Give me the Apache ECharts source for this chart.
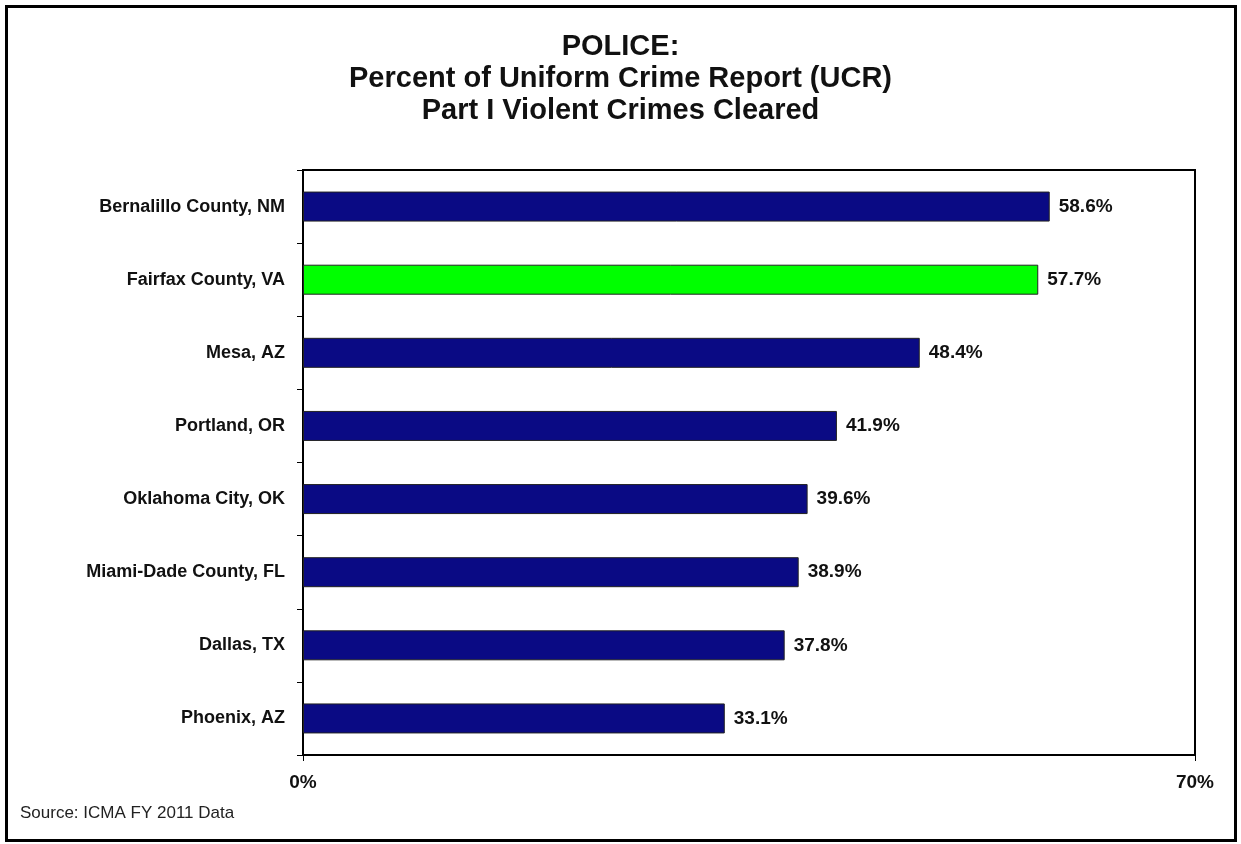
<!DOCTYPE html>
<html>
<head>
<meta charset="utf-8">
<script src="https://cdn.jsdelivr.net/npm/echarts@6/dist/echarts.min.js"></script>
<style>
  html, body { margin: 0; padding: 0; background: #fff; }
  #chart { width: 1241px; height: 844px; }
</style>
</head>
<body>
<div id="chart"></div>
<script>
// data
var cities = [
  "Bernalillo County, NM",
  "Fairfax County, VA",
  "Mesa, AZ",
  "Portland, OR",
  "Oklahoma City, OK",
  "Miami-Dade County, FL",
  "Dallas, TX",
  "Phoenix, AZ"
];
var cleared = [58.6, 57.7, 48.4, 41.9, 39.6, 38.9, 37.8, 33.1];
var highlight = "Fairfax County, VA";
var axisTicks = [0, 70];

var navy = "#0a0a84";
var green = "#00ff00";
var font = "'Liberation Sans', Arial, sans-serif";

var chart = echarts.init(document.getElementById("chart"));

var option = {
  backgroundColor: "#fff",
  animation: false,
  title: {
    text: "POLICE:\nPercent of Uniform Crime Report (UCR)\nPart I Violent Crimes Cleared",
    left: "center",
    top: 26,
    textStyle: {
      fontFamily: font,
      fontSize: 29,
      fontWeight: "bold",
      color: "#111",
      lineHeight: 32
    }
  },
  graphic: [
    {
      type: "rect",
      shape: { x: 6.5, y: 6.5, width: 1229, height: 834 },
      style: { fill: "none", stroke: "#000", lineWidth: 3 }
    },
    {
      type: "text",
      left: 20,
      top: 805,
      style: {
        text: "Source: ICMA FY 2011 Data",
        font: "17px " + font,
        fill: "#222"
      }
    }
  ],
  grid: {
    left: 303,
    right: 46,
    top: 170,
    bottom: 89,
    show: true,
    borderColor: "#000",
    borderWidth: 2
  },
  xAxis: {
    type: "value",
    min: 0,
    max: 70,
    interval: 70,
    splitLine: { show: false },
    axisLine: { show: true, lineStyle: { color: "#000", width: 2 } },
    axisTick: { show: true, length: 6, lineStyle: { color: "#000" } },
    axisLabel: {
      margin: 18,
      fontFamily: font,
      fontSize: 19,
      fontWeight: "bold",
      color: "#111",
      formatter: function (v) {
        return axisTicks.indexOf(v) >= 0 ? v + "%" : "";
      }
    }
  },
  yAxis: {
    type: "category",
    inverse: true,
    data: cities,
    axisLine: { show: true, lineStyle: { color: "#000", width: 2 } },
    axisTick: { show: true, length: 6, lineStyle: { color: "#000" } },
    axisLabel: {
      margin: 18,
      fontFamily: font,
      fontSize: 18,
      fontWeight: "bold",
      color: "#111"
    }
  },
  series: [
    {
      type: "bar",
      barWidth: 30,
      data: cleared.map(function (v, i) {
        return {
          value: v,
          itemStyle: { color: cities[i] === highlight ? green : navy }
        };
      }),
      itemStyle: { borderColor: "#222", borderWidth: 1 },
      label: {
        show: true,
        position: "right",
        distance: 9,
        fontFamily: font,
        fontSize: 19,
        fontWeight: "bold",
        color: "#111",
        formatter: function (p) {
          return p.value.toFixed(1) + "%";
        }
      }
    }
  ]
};

chart.setOption(option);
</script>
</body>
</html>
